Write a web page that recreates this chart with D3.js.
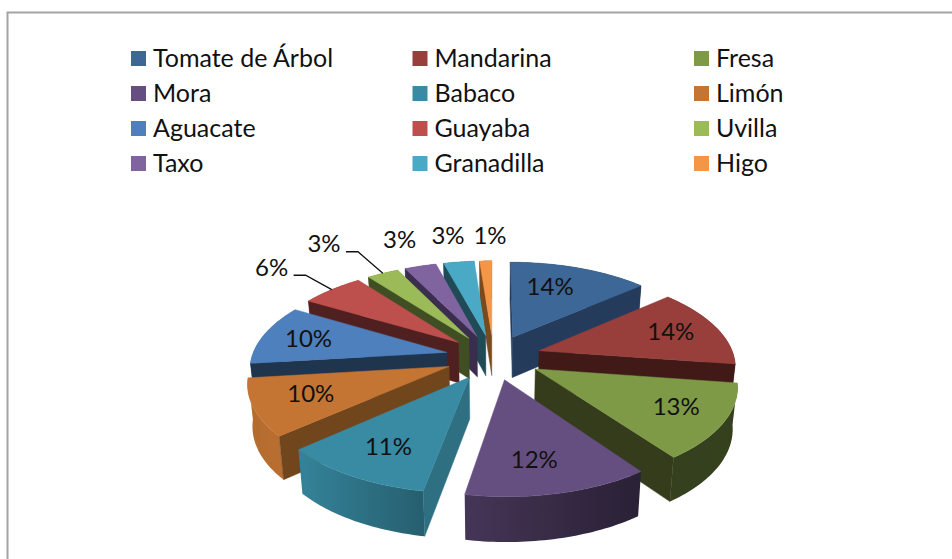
<!DOCTYPE html>
<html>
<head>
<meta charset="utf-8">
<script src="https://cdn.jsdelivr.net/npm/d3@7"></script>
<style>
  html, body { margin: 0; padding: 0; background: #fff; overflow: hidden; }
  text { font-family: Lato, "Noto Sans", sans-serif; fill: #111; }
</style>
</head>
<body>
<div id="chart"></div>
<script>
// ── Data ──────────────────────────────────────────────────────────────────────
const fruits = ['Tomate de Árbol', 'Mandarina', 'Fresa', 'Mora', 'Babaco', 'Limón',
  'Aguacate', 'Guayaba', 'Uvilla', 'Taxo', 'Granadilla', 'Higo'];
// the percentages printed on the chart
const percentLabels = ['14%', '14%', '13%', '12%', '11%', '10%', '10%', '6%', '3%', '3%', '3%', '1%'];
// shares
const shares = [13.6, 13.7, 12.8, 12.7, 10.65, 9.65, 10.4, 6.1, 3.1, 3.1, 3.0, 1.2];

const topColors = ['#3d6796', '#983f3c', '#7f9a47', '#654f80', '#388ba3', '#c47533',
  '#4d80bc', '#bd4f4c', '#9abb58', '#8064a0', '#4aa9c4', '#f59646'];
const sideColors = ['#243b5c', '#411a17', '#343c1c', '#352a48', '#2e6f82', '#72461d',
  '#1f344d', '#502020', '#404e23', '#3a2d4d', '#1f4a56', '#7a4a1f'];

// label placement: radius as a share of the pie radius, then a small nudge in px
const labelRadius = [0.62, 0.62, 0.62, 0.62, 0.62, 0.62, 0.62, 1.35, 1.35, 1.35, 1.35, 1.35];
const labelNudge = [[-6, -6], [21, -4], [28, 5], [-2, 14], [-12, 11], [-20, 2],
  [-24, -3], [-21, -6], [-33, -10], [-4, -6], [-3, -5], [6, -4]];
const leaderSlices = ['Guayaba', 'Uvilla'];

// ── Layout ────────────────────────────────────────────────────────────────────
const width = 952;
const height = 559;
const cx = 493.5, cy = 357;      // pie centre on screen
const R = 195;                   // pie radius on the ground plane
const explode = 48;              // how far each slice is pulled out
const camera = 1300;             // perspective distance
const tilt = 0.47;               // squash of the ground plane
const thickness = 41;

const svg = d3.select('#chart').append('svg')
  .attr('width', width)
  .attr('height', height)
  .attr('viewBox', `0 0 ${width} ${height}`)
  .style('display', 'block');

// Frame
svg.append('path')
  .attr('d', `M7.5,${height} V12.5 H${width}`)
  .attr('fill', 'none')
  .attr('stroke', '#a3a3a3')
  .attr('stroke-width', 2);

// ── Legend ────────────────────────────────────────────────────────────────────
const legendCol = d3.scalePoint().domain([0, 1, 2]).range([131, 694]);
const legendRow = d3.scalePoint().domain([0, 1, 2, 3]).range([58.5, 163.5]);

const legend = svg.append('g').selectAll('g')
  .data(fruits)
  .join('g')
  .attr('transform', (d, i) => `translate(${legendCol(i % 3)},${legendRow(Math.floor(i / 3))})`);

legend.append('rect')
  .attr('y', -7.5)
  .attr('width', 15)
  .attr('height', 15)
  .attr('fill', (d, i) => topColors[i]);

legend.append('text')
  .attr('x', 22)
  .attr('y', 8)
  .attr('font-size', 25)
  .text((d) => d);

// ── Pie, projected by hand ────────────────────────────────────────────────────
const arcs = d3.pie().sort(null)(shares).map((a, i) => ({
  ...a,
  name: fruits[i],
  index: i,
  mid: (a.startAngle + a.endAngle) / 2,
}));

// u right, v toward the viewer, z 0 on top and 1 on the underside
function project(u, v, z = 0) {
  const s = camera / (camera - v);
  return [
    cx + u * s * (1 - 0.02 * z),
    cy + v * tilt * s + z * thickness * Math.sqrt(s),
  ];
}

function slicePoint(d, angle, radius, z = 0) {
  return project(
    Math.sin(d.mid) * explode + Math.sin(angle) * radius,
    -Math.cos(d.mid) * explode - Math.cos(angle) * radius,
    z
  );
}

const line = d3.line();

function arcAngles(d) {
  return d3.range(0, 1.0001, 1 / 40).map((t) => d.startAngle + (d.endAngle - d.startAngle) * t);
}

// a side wall only shows when the top of the slice sits above its edge
function wallFacesViewer(d, angle) {
  const a = slicePoint(d, 0, 0);
  const b = slicePoint(d, angle, R);
  const p = slicePoint(d, d.mid, R * 0.5);
  if (Math.abs(b[0] - a[0]) < 1) return false;
  const edgeY = a[1] + (b[1] - a[1]) * (p[0] - a[0]) / (b[0] - a[0]);
  return p[1] < edgeY;
}

// how bright the outer wall is at a given angle (degrees clockwise from north)
const wallShade = d3.scaleLinear()
  .domain([0, 147, 190, 230, 270, 360])
  .range([0.4, 0.42, 0.68, 0.95, 0.9, 0.5]);

const defs = svg.append('defs');

function wallGradient(d) {
  const id = `wall-${d.index}`;
  const [x1] = slicePoint(d, d.startAngle, R);
  const [x2] = slicePoint(d, d.endAngle, R);
  const grad = defs.append('linearGradient')
    .attr('id', id)
    .attr('gradientUnits', 'userSpaceOnUse')
    .attr('x1', x1).attr('x2', x2)
    .attr('y1', 0).attr('y2', 0);
  d3.range(0, 1.01, 0.25).forEach((t) => {
    const deg = (d.startAngle + (d.endAngle - d.startAngle) * t) * 180 / Math.PI;
    const c = d3.rgb(topColors[d.index]);
    const k = wallShade(deg);
    grad.append('stop')
      .attr('offset', t)
      .attr('stop-color', d3.rgb(c.r * k, c.g * k, c.b * k).formatHex());
  });
  return `url(#${id})`;
}

// paint far slices first
const paintOrder = d3.sort(arcs, (d) => -Math.cos(d.mid));

const slices = svg.append('g').selectAll('g')
  .data(paintOrder)
  .join('g');

slices.each(function (d) {
  const g = d3.select(this);
  const side = sideColors[d.index];

  const angles = arcAngles(d);
  const upper = angles.map((a) => slicePoint(d, a, R));
  const lower = angles.map((a) => slicePoint(d, a, R, 1)).reverse();
  g.append('path')
    .attr('d', line(upper.concat(lower)) + 'Z')
    .attr('fill', wallGradient(d));

  [d.startAngle, d.endAngle].filter((angle) => wallFacesViewer(d, angle)).forEach((angle) => {
    g.append('path')
      .attr('d', line([
        slicePoint(d, 0, 0), slicePoint(d, angle, R),
        slicePoint(d, angle, R, 1), slicePoint(d, 0, 0, 1),
      ]) + 'Z')
      .attr('fill', side)
      .attr('stroke', side)
      .attr('stroke-width', 0.5);
  });

  g.append('path')
    .attr('d', line([slicePoint(d, 0, 0), ...upper]) + 'Z')
    .attr('fill', topColors[d.index])
    .attr('stroke', topColors[d.index])
    .attr('stroke-width', 0.5);
});

// ── Labels ────────────────────────────────────────────────────────────────────
function labelPoint(d) {
  const p = slicePoint(d, d.mid, R * labelRadius[d.index]);
  return [p[0] + labelNudge[d.index][0], p[1] + labelNudge[d.index][1]];
}

svg.append('g').selectAll('text')
  .data(arcs)
  .join('text')
  .attr('x', (d) => labelPoint(d)[0])
  .attr('y', (d) => labelPoint(d)[1])
  .attr('dy', '0.36em')
  .attr('text-anchor', 'middle')
  .attr('font-size', 24)
  .text((d) => percentLabels[d.index]);

svg.append('g').selectAll('path')
  .data(arcs.filter((d) => leaderSlices.includes(d.name)))
  .join('path')
  .attr('fill', 'none')
  .attr('stroke', '#111')
  .attr('stroke-width', 1.3)
  .attr('d', (d) => {
    const [lx, ly] = labelPoint(d);
    const start = [lx + 22, ly + 8];
    return line([start, [start[0] + 12, start[1]], slicePoint(d, d.mid, R)]);
  });
</script>
</body>
</html>
